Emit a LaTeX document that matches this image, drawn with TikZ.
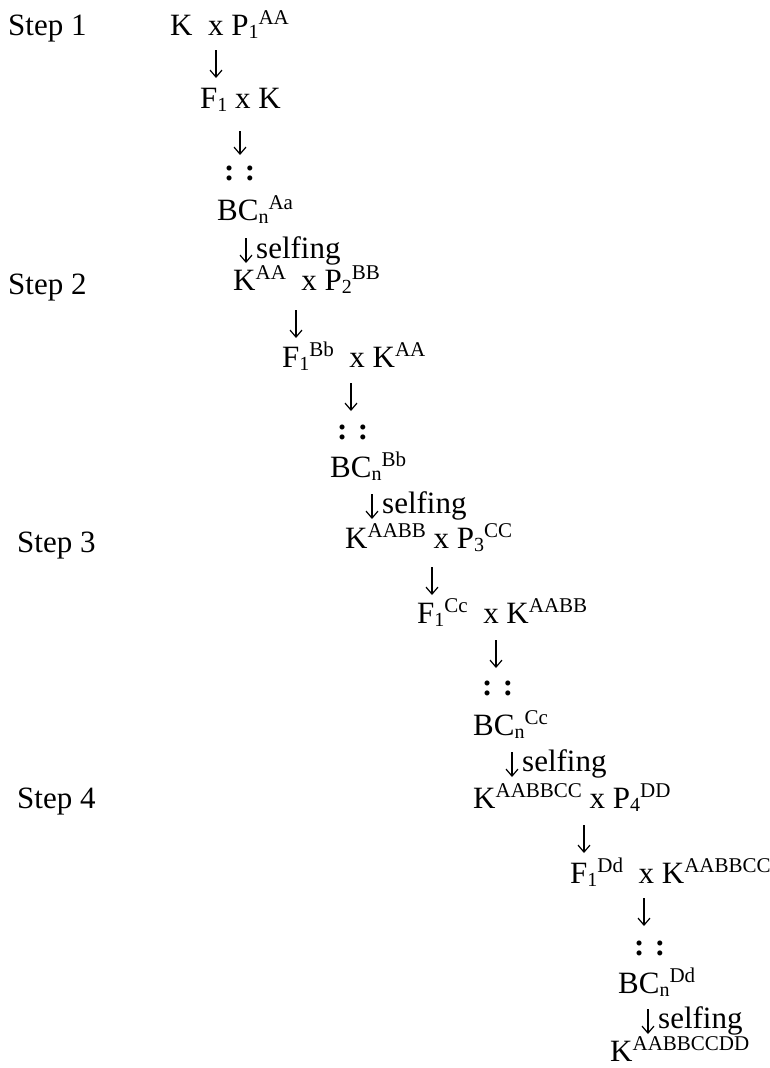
\documentclass[tikz,border=0pt]{standalone}
\usepackage{fontspec}
\setmainfont{Liberation Serif}
\usetikzlibrary{arrows.meta}
\newcommand{\supx}[1]{\raisebox{11pt}{\fontsize{21}{21}\selectfont #1}}
\newcommand{\subx}[1]{\raisebox{-3pt}{\fontsize{20}{20}\selectfont #1}}
\begin{document}
\begin{tikzpicture}[x=1pt,y=-1pt,
  every node/.style={inner sep=0pt, font=\fontsize{31}{36}\selectfont},
  txt/.style={anchor=base west},
  dots/.style={anchor=north west, font=\fontsize{31}{36}\selectfont\bfseries},
  darr/.style={line width=1.2pt, -{Straight Barb[length=7pt,width=12pt,line width=1.2pt]}}]
\fill[white] (0,0) rectangle (770,1068);
\useasboundingbox (0,0) rectangle (770,1068);
% step labels
\node[txt] (s1) at (8,35) {Step 1};
\node[txt] (s2) at (8,294) {Step 2};
\node[txt] (s3) at (17,552) {Step 3};
\node[txt] (s4) at (17,808) {Step 4};
% step 1
\node[txt] (l1) at (170,35) {K\ \ x P\subx{1}\supx{AA}};
\coordinate (a1t) at (216,50); \coordinate (a1b) at (216,78);
\node[txt] (l2) at (200,108) {F\subx{1} x K};
\coordinate (a2t) at (240,131); \coordinate (a2b) at (240,155);
\node[dots] (d1) at (224,166) {: :};
\node[txt] (l3) at (217,220) {BC\subx{n}\supx{Aa}};
\coordinate (f1t) at (246,238); \coordinate (f1b) at (246,263);
\node[txt] (f1) at (256,258) {selfing};
% step 2
\node[txt] (l4) at (233,290) {K\supx{AA}\ \ x P\subx{2}\supx{BB}};
\coordinate (a3t) at (296,310); \coordinate (a3b) at (296,338);
\node[txt] (l5) at (282,367) {F\subx{1}\supx{Bb}\ \ x K\supx{AA}};
\coordinate (a4t) at (351,383); \coordinate (a4b) at (351,411);
\node[dots] (d2) at (337,425) {: :};
\node[txt] (l6) at (330,477) {BC\subx{n}\supx{Bb}};
\coordinate (f2t) at (372,494); \coordinate (f2b) at (372,519);
\node[txt] (f2) at (382,513) {selfing};
% step 3
\node[txt] (l7) at (345,548) {K\supx{AABB} x P\subx{3}\supx{CC}};
\coordinate (a5t) at (432,567); \coordinate (a5b) at (432,595);
\node[txt] (l8) at (417,623) {F\subx{1}\supx{Cc}\ \ x K\supx{AABB}};
\coordinate (a6t) at (496,640); \coordinate (a6b) at (496,668);
\node[dots] (d3) at (482,681) {: :};
\node[txt] (l9) at (473,735) {BC\subx{n}\supx{Cc}};
\coordinate (f3t) at (512,752); \coordinate (f3b) at (512,777);
\node[txt] (f3) at (522,771) {selfing};
% step 4
\node[txt] (l10) at (473,808) {K\supx{AABBCC} x P\subx{4}\supx{DD}};
\coordinate (a7t) at (584,825); \coordinate (a7b) at (584,853);
\node[txt] (l11) at (570,883) {F\subx{1}\supx{Dd}\ \ x K\supx{AABBCC}};
\coordinate (a8t) at (644,898); \coordinate (a8b) at (644,926);
\node[dots] (d4) at (634,941) {: :};
\node[txt] (l12) at (618,993) {BC\subx{n}\supx{Dd}};
\coordinate (f4t) at (648,1009); \coordinate (f4b) at (648,1034);
\node[txt] (f4) at (658,1028) {selfing};
\node[txt] (l13) at (610,1061) {K\supx{AABBCCDD}};
% arrows
\foreach \a in {a1,a2,f1,a3,a4,f2,a5,a6,f3,a7,a8,f4}
  \draw[darr] (\a t) -- (\a b);
\end{tikzpicture}
\end{document}
